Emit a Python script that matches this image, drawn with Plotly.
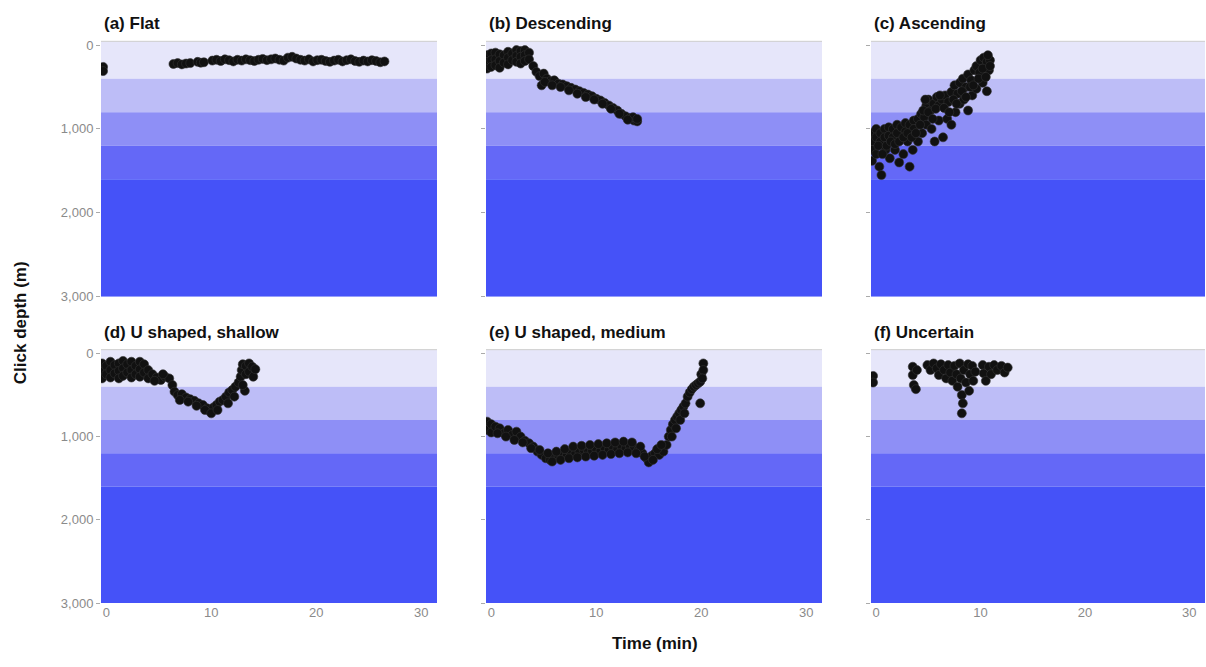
import plotly.graph_objects as go

# ---------------- data ----------------
panel_titles = ["(a) Flat", "(b) Descending", "(c) Ascending",
                "(d) U shaped, shallow", "(e) U shaped, medium", "(f) Uncertain"]

band_edges = [0, 400, 800, 1200, 1600, 3000]
band_colors = ["#E6E6FA", "#BDBDF7", "#8E8FF6", "#6468F7", "#4552F8"]

x_ticks = [0, 10, 20, 30]
y_ticks = [0, 1000, 2000, 3000]

a_time = [-0.3, -0.3,
          6.4, 6.8, 7.2, 7.6, 8.0, 8.7, 9.0, 9.3,
          10.1, 10.5, 10.9, 11.3, 11.7, 12.1, 12.5, 12.9, 13.3, 13.7,
          14.1, 14.5, 14.9, 15.3, 15.7, 16.1, 16.5, 16.9, 17.3, 17.7,
          18.1, 18.5, 18.9, 19.3, 19.7, 20.1, 20.5, 20.9, 21.3, 21.7,
          22.1, 22.5, 22.9, 23.3, 23.7, 24.1, 24.5, 24.9, 25.3, 25.7,
          26.1, 26.5]
a_depth = [260, 310,
           225, 215, 230, 220, 215, 200, 210, 205,
           185, 175, 190, 170, 180, 195, 175, 185, 170, 180,
           190, 175, 165, 180, 170, 160, 175, 185, 150, 140,
           160, 175, 185, 170, 195, 180, 175, 190, 200, 185,
           175, 195, 180, 170, 190, 200, 185, 195, 180, 190,
           205, 195]

b_time = [-0.4, -0.4, -0.4, 0.0, 0.0, 0.0, 0.4, 0.4, 0.4, 0.8, 0.8, 0.8,
          1.2, 1.2, 1.6, 1.6, 1.6, 2.0, 2.0, 2.4, 2.4, 2.4, 2.8, 2.8, 2.8,
          3.2, 3.2, 3.2, 3.6, 3.6,
          4.0, 4.3, 4.6, 4.8, 5.0, 5.3, 5.6, 6.0, 6.4, 6.8, 7.2, 7.6, 8.0,
          8.4, 8.8, 9.2, 9.6, 10.0, 10.4, 10.8, 11.2, 11.6, 12.0, 12.4,
          12.8, 13.2, 13.6, 13.9, 13.5, 13.9,
          5.1, 5.8, 6.6, 7.4, 8.2, 9.0, 9.8, 10.6, 11.4, 12.2, 13.0]
b_depth = [120, 200, 280, 100, 180, 260, 90, 170, 240, 110, 190, 270,
           120, 210, 80, 150, 230, 100, 180, 60, 130, 200, 70, 140, 220,
           60, 120, 190, 90, 170,
           250, 320, 370, 480, 340, 400, 430, 420, 460, 470, 490, 510, 530,
           550, 570, 590, 610, 640, 660, 690, 720, 750, 780, 820,
           850, 870, 900, 910, 860, 880,
           440, 480, 500, 540, 580, 620, 650, 700, 760, 820, 890]

c_time = [-0.4, -0.4, 0.0, 0.0, 0.4, 0.4, 0.8, 0.8, 1.2, 1.2, 1.6, 1.6,
          2.0, 2.0, 2.4, 2.8, 2.8, 3.2, 3.6, 3.6, 4.0, 4.3, 4.6, 4.8, 5.0,
          5.2, 5.5, 5.8, 6.0, 6.3, 6.6, 6.9, 7.2, 7.5, 7.8, 8.0, 8.3, 8.6,
          8.8, 9.1, 9.4, 9.6, 9.9, 10.0, 10.3, 10.6, 10.8, 10.9,
          -0.4, -0.4, 0.0, 0.3, 0.5, 0.9, 1.3, 1.8, 2.2, 2.6, 3.0, 3.2, 3.5,
          4.0, 4.4, 4.8, 5.3, 5.6, 6.0, 6.4, 6.8, 7.2, 7.6, 8.0, 8.4, 8.8,
          9.2, 9.6, 10.2, 10.6,
          0.2, 0.6, 1.0, 1.4, 1.8, 2.2, 2.6, 3.0, 3.4, 3.8, 4.2, 4.5, 4.7,
          5.0, 5.4, 5.7, 6.1, 6.5, 7.0, 7.4, 7.7, 8.2, 8.6, 9.0, 9.3, 9.8,
          10.2, 10.5, 10.9, 10.7]
c_depth = [1050, 1150, 1000, 1100, 1050, 1150, 1000, 1100, 980, 1080, 1000, 1100,
           950, 1050, 980, 930, 1030, 950, 900, 1000, 880, 820, 860, 720, 650,
           780, 700, 620, 720, 650, 600, 680, 560, 480, 580, 450, 400, 500,
           350, 420, 300, 250, 330, 180, 150, 200, 300, 180,
           1250, 1380, 1300, 1450, 1550, 1250, 1350, 1250, 1400, 1300, 1150, 1450, 1250,
           1150, 1050, 950, 1000, 1150, 900, 1100, 880, 950, 800, 700, 650, 780,
           600, 520, 450, 550,
           1200, 1300, 1200, 1150, 1180, 1150, 1100, 1050, 1100, 1050, 950, 780, 650,
           800, 880, 760, 600, 750, 800, 650, 700, 550, 620, 500, 480, 400,
           280, 380, 250, 120]

d_time = [-0.4, -0.4, -0.4, 0.0, 0.0, 0.4, 0.4, 0.4, 0.8, 0.8, 1.2, 1.2, 1.2,
          1.6, 1.6, 1.6, 2.0, 2.0, 2.4, 2.4, 2.4, 2.8, 2.8, 3.2, 3.2, 3.2,
          3.6, 3.6, 4.0, 4.0, 4.4, 4.8, 5.2, 5.6, 6.0, 6.3, 6.5, 6.8, 7.2,
          7.6, 8.0, 8.4, 8.8, 9.2, 9.6, 9.9, 10.2, 10.5, 10.8, 11.1, 11.4,
          11.7, 12.0, 12.3, 12.6, 12.8, 12.9, 13.0, 13.3, 13.3, 13.6, 13.6,
          13.9, 14.0, 14.2, 13.2, 13.0,
          4.6, 5.4, 7.0, 7.8, 8.6, 9.4, 10.0, 10.6, 11.6, 12.2]
d_depth = [120, 220, 300, 150, 250, 100, 200, 290, 140, 240, 120, 210, 300,
           90, 180, 270, 130, 230, 100, 200, 290, 150, 250, 100, 190, 280,
           130, 230, 200, 300, 250, 290, 320, 280, 300, 380, 460, 500, 490,
           530, 550, 570, 600, 620, 660, 700, 650, 620, 580, 560, 520,
           470, 440, 400, 350, 280, 200, 130, 150, 250, 120, 220,
           160, 280, 190, 450, 380,
           330, 250, 560, 580, 630, 680, 720, 680, 600, 520]

e_time = [-0.4, -0.4, 0.0, 0.0, 0.4, 0.8, 1.2, 1.6, 2.0, 2.4, 2.8, 3.2, 3.6,
          4.0, 4.4, 4.8, 5.2, 5.6, 6.0, 6.4, 6.8, 7.2, 7.6, 8.0, 8.4, 8.8,
          9.2, 9.6, 10.0, 10.4, 10.8, 11.2, 11.6, 12.0, 12.4, 12.8, 13.2,
          13.6, 14.0, 14.4, 14.8, 15.0, 15.3, 15.6, 16.0, 16.4, 16.7, 16.9,
          17.1, 17.3, 17.5, 17.7, 17.9, 18.1, 18.3, 18.5, 18.7, 18.9, 19.1,
          19.3, 19.5, 19.7, 19.9, 20.0, 20.2, 20.2, 20.1, 19.9,
          0.6, 1.4, 2.2, 3.0, 3.8, 4.6, 5.4, 6.2, 7.0, 7.8, 8.6, 9.4, 10.2,
          11.0, 11.8, 12.6, 13.4, 14.2, 15.8, 16.2, 17.2, 17.6, 18.0, 18.4,
          5.8, 6.6, 7.4, 8.2, 9.0, 9.8, 10.6, 11.4, 12.2, 13.0, 13.8, 14.6, 15.4]
e_depth = [820, 920, 850, 950, 880, 900, 960, 920, 980, 940, 1000, 1050, 1080,
           1120, 1180, 1220, 1260, 1280, 1250, 1230, 1200, 1220, 1190, 1210, 1180, 1160,
           1190, 1170, 1150, 1170, 1140, 1160, 1130, 1150, 1120, 1140, 1110,
           1130, 1160, 1200, 1260, 1310, 1230, 1200, 1220, 1180, 1100, 1000,
           920, 850, 800, 760, 720, 680, 640, 600, 520, 470, 430,
           400, 380, 360, 340, 250, 120, 200, 300, 600,
           960, 1000, 1040, 1070, 1140, 1160, 1200, 1180, 1150, 1120, 1110, 1100, 1090,
           1080, 1070, 1060, 1070, 1120, 1150, 1100, 1000, 900, 800, 720,
           1300, 1280, 1260, 1250, 1240, 1230, 1220, 1210, 1200, 1190, 1200, 1240, 1280]

f_time = [-0.3, -0.3, 3.5, 3.5, 3.6, 3.9, 3.8, 4.9, 5.2, 5.5, 5.8, 6.0, 6.2,
          6.5, 6.7, 6.9, 7.1, 7.3, 7.5, 7.7, 7.8, 8.0, 8.1, 8.2, 8.3, 8.2,
          8.4, 8.6, 8.8, 8.9, 9.0, 9.2, 9.3, 9.5, 10.2, 10.3, 10.5, 10.8,
          11.0, 11.3, 11.6, 12.0, 12.3, 12.6]
f_depth = [270, 350, 160, 260, 380, 200, 430, 140, 200, 120, 180, 260, 130,
           200, 300, 140, 230, 330, 150, 250, 400, 120, 300, 500, 600, 720,
           200, 350, 130, 450, 250, 150, 330, 220, 140, 240, 330, 160,
           250, 140, 200, 150, 230, 170]

series = [(a_time, a_depth), (b_time, b_depth), (c_time, c_depth),
          (d_time, d_depth), (e_time, e_depth), (f_time, f_depth)]

# ---------------- layout (window pixels) ----------------
W, H = 1206, 667
col_px = [(101, 437), (486, 822), (871, 1205)]
row_px = [(38, 298), (352, 610)]
title_y_px = [20, 335]
x_range = [-0.5, 31.5]
y_range = [3000, -45]


def px_x(p):
    return p / W


def px_y(p):
    return 1 - p / H


fig = go.Figure()
layout = dict(width=W, height=H, margin=dict(l=0, r=0, t=0, b=0),
              plot_bgcolor="white", paper_bgcolor="white", showlegend=False,
              font=dict(family="Liberation Sans, Arial, sans-serif"))
shapes = []
annotations = []
tick_font = dict(family="Liberation Sans, Arial, sans-serif", size=13, color="#8a8a8a")

for i, (tt, dd) in enumerate(series):
    r, c = divmod(i, 3)
    n = i + 1
    xa = "x" if n == 1 else f"x{n}"
    ya = "y" if n == 1 else f"y{n}"
    xkey = "xaxis" if n == 1 else f"xaxis{n}"
    ykey = "yaxis" if n == 1 else f"yaxis{n}"
    x0p, x1p = col_px[c]
    y0p, y1p = row_px[r]
    layout[xkey] = dict(domain=[px_x(x0p), px_x(x1p)], range=x_range, anchor=ya,
                        showgrid=False, zeroline=False, showline=False,
                        tickvals=x_ticks, ticks="",
                        showticklabels=(r == 1), tickfont=tick_font)
    layout[ykey] = dict(domain=[px_y(y1p), px_y(y0p)], range=y_range, anchor=xa,
                        showgrid=False, zeroline=False, showline=False,
                        tickvals=y_ticks, tickformat=",", ticks="outside",
                        ticklen=4, tickcolor="#aaaaaa",
                        showticklabels=(c == 0), tickfont=tick_font)
    for b in range(len(band_colors)):
        top = band_edges[b] if b > 0 else y_range[1]
        shapes.append(dict(type="rect", xref=f"{xa} domain", yref=ya,
                           x0=0, x1=1, y0=top, y1=band_edges[b + 1],
                           fillcolor=band_colors[b], line=dict(width=0),
                           layer="below"))
    shapes.append(dict(type="line", xref=f"{xa} domain", yref=f"{ya} domain",
                       x0=0, x1=1, y0=1, y1=1, line=dict(color="#cccccc", width=1)))
    fig.add_trace(go.Scatter(x=tt, y=dd, mode="markers", xaxis=xa, yaxis=ya,
                             marker=dict(size=9, color="#111111",
                                         line=dict(width=0.6, color="#333333")),
                             cliponaxis=True, hoverinfo="skip"))
    annotations.append(dict(text=f"<b>{panel_titles[i]}</b>", xref="paper", yref="paper",
                            x=px_x(x0p + 1), y=px_y(title_y_px[r]),
                            xanchor="left", yanchor="middle", showarrow=False,
                            font=dict(size=17, color="#111111")))

annotations.append(dict(text="<b>Click depth (m)</b>", xref="paper", yref="paper",
                        x=px_x(20), y=px_y(325), textangle=-90, showarrow=False,
                        xanchor="center", yanchor="middle",
                        font=dict(size=17, color="#111111")))
annotations.append(dict(text="<b>Time (min)</b>", xref="paper", yref="paper",
                        x=px_x(655), y=px_y(651), showarrow=False,
                        xanchor="center", yanchor="middle",
                        font=dict(size=17, color="#111111")))
layout["shapes"] = shapes
layout["annotations"] = annotations
fig.update_layout(**layout)

# remove the default 8px page margin so the figure fills the window exactly
fig.write_html("out.html",
               config={"displayModeBar": False},
               post_script="document.body.style.margin='0';"
                           "document.body.style.overflow='hidden';")
